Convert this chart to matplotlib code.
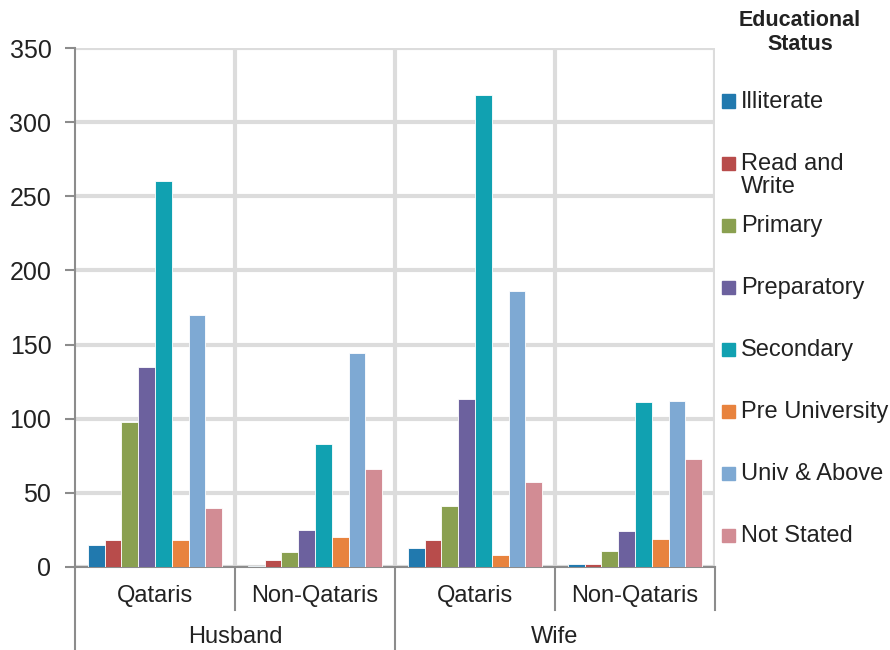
import numpy as np
import matplotlib.pyplot as plt
from matplotlib.patches import Rectangle

plt.rcParams['font.family'] = ['Liberation Sans', 'DejaVu Sans']

groups = ['Husband', 'Wife']
subgroups = ['Qataris', 'Non-Qataris', 'Qataris', 'Non-Qataris']
status = ['Illiterate', 'Read and\nWrite', 'Primary', 'Preparatory',
          'Secondary', 'Pre University', 'Univ & Above', 'Not Stated']
colors = ['#2179AE', '#B84C4B', '#8AA050', '#6C619E',
          '#11A1B1', '#E8833E', '#7EA9D3', '#D28C94']

# one row per status, one column per subgroup
values = np.array([
    [15, 1, 13, 2],
    [18, 5, 18, 2],
    [98, 10, 41, 11],
    [135, 25, 113, 24],
    [260, 83, 318, 111],
    [18, 20, 8, 19],
    [170, 144, 186, 112],
    [40, 66, 57, 73],
])

fig = plt.figure(figsize=(8.9, 6.5), dpi=100)
ax = fig.add_axes([75/890, 83/650, 640/890, 519/650])

x = np.arange(len(subgroups)) + 0.5
w = 0.105
n = len(status)
for i in range(n):
    ax.bar(x + (i - (n - 1) / 2) * w, values[i], width=w, color=colors[i],
           edgecolor='white', linewidth=0.6, zorder=3)

ax.set_xlim(0, 4)
ax.set_ylim(0, 350)
ax.set_yticks(np.arange(0, 351, 50))
ax.set_xticks([])
ax.grid(axis='y', color='#DCDCDC', lw=3, zorder=0)
for xv in [1, 2, 3, 4]:
    ax.axvline(xv, color='#DCDCDC', lw=3, zorder=0)

for s in ['top', 'right']:
    ax.spines[s].set_visible(False)
ax.spines['left'].set_color('#8C8C8C')
ax.spines['bottom'].set_color('#8C8C8C')
ax.spines['left'].set_linewidth(1.5)
ax.spines['bottom'].set_linewidth(1.5)
ax.tick_params(axis='y', length=7, width=1.5, color='#8C8C8C', labelsize=18,
               labelcolor='#222222', pad=10)

# category labels below the axis
tr = ax.get_xaxis_transform()
for xi, lab in zip(x, subgroups):
    ax.text(xi, -0.055, lab, transform=tr, ha='center', va='center',
            fontsize=17, color='#222222')
for gi, lab in enumerate(groups):
    ax.text(gi * 2 + 1, -0.135, lab, transform=tr, ha='center', va='center',
            fontsize=17, color='#222222')
for xv in [1, 3, 4]:
    ax.plot([xv, xv], [0, -0.083], transform=tr, color='#8C8C8C', lw=1.5,
            clip_on=False)
for xv in [0, 2]:
    ax.plot([xv, xv], [0, -0.17], transform=tr, color='#8C8C8C', lw=1.5,
            clip_on=False)

# legend
fig.text(800/890, 1 - 20/650, 'Educational', ha='center', va='center',
         fontsize=15.5, fontweight='bold', color='#222222')
fig.text(800/890, 1 - 45/650, 'Status', ha='center', va='center',
         fontsize=15.5, fontweight='bold', color='#222222')
for i in range(n):
    yc = 101 + 62 * i
    fig.add_artist(Rectangle((722/890, 1 - (yc + 6.5)/650), 13/890, 13/650,
                             color=colors[i], transform=fig.transFigure))
    fig.text(741/890, 1 - (yc - 10)/650, status[i], ha='left', va='top',
             fontsize=17, color='#222222', linespacing=1.05)

fig.savefig('out.png', dpi=100)
